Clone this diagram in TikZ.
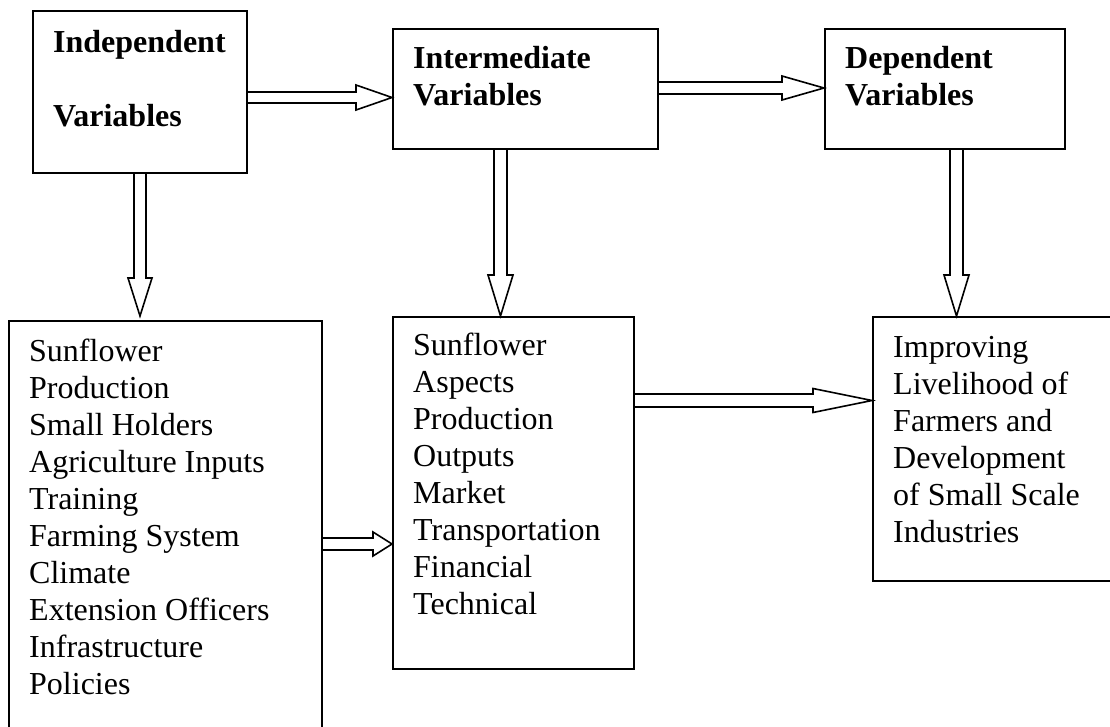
\documentclass[tikz,border=0pt]{standalone}
\usepackage{fontspec}
\setmainfont{Liberation Serif}
\usetikzlibrary{calc}
\tikzset{
  box/.style={draw=black, line width=2pt, rectangle, inner sep=0pt, anchor=north west},
  blk/.style={draw=black, line width=1.6pt, fill=white, line join=miter},
  txt/.style={inner sep=0pt, anchor=base west, align=flush left, text width=300pt,
    font={\fontsize{32}{37}\selectfont}},
  ttl/.style={txt, font={\fontsize{32}{37}\selectfont\bfseries}}
}
\newcommand\blockright[5]{%
  \draw[blk] let \p1=(#1), \p2=(#2) in
   (\x1,\y2+#3) -- (\x2-#4,\y2+#3) -- (\x2-#4,\y2+#5) -- (\x2,\y2)
   -- (\x2-#4,\y2-#5) -- (\x2-#4,\y2-#3) -- (\x1,\y2-#3);}
\newcommand\blockdown[5]{%
  \draw[blk] let \p1=(#1), \p2=(#2) in
   (\x2-#3,\y1) -- (\x2-#3,\y2+#4) -- (\x2-#5,\y2+#4) -- (\x2,\y2)
   -- (\x2+#5,\y2+#4) -- (\x2+#3,\y2+#4) -- (\x2+#3,\y1);}
\begin{document}
\begin{tikzpicture}[x=1pt,y=-1pt]
\useasboundingbox (0,0) rectangle (1110,726);
\clip (0,0) rectangle (1110,726);
\fill[white] (0,0) rectangle (1110,726);
% boxes
\node[box, minimum width=214pt, minimum height=162pt] (b1) at (32,10) {};
\node[box, minimum width=265pt, minimum height=120pt] (b2) at (392,28) {};
\node[box, minimum width=240pt, minimum height=120pt] (b3) at (824,28) {};
\node[box, minimum width=313pt, minimum height=500pt] (b4) at (8,320) {};
\node[box, minimum width=241pt, minimum height=352pt] (b5) at (392,316) {};
\node[box, minimum width=300pt, minimum height=264pt] (b6) at (872,316) {};
% texts
\node[ttl] (t1) at (53,52) {Independent\\[37pt]Variables};
\node[ttl] (t2) at (413,68) {Intermediate\\Variables};
\node[ttl] (t3) at (845,68) {Dependent\\Variables};
\node[txt] (t4) at (29,361) {Sunflower\\Production\\Small Holders\\Agriculture Inputs\\Training\\Farming System\\Climate\\Extension Officers\\Infrastructure\\Policies};
\node[txt] (t5) at (413,355) {Sunflower\\Aspects\\Production\\Outputs\\Market\\Transportation\\Financial\\Technical};
\node[txt] (t6) at (893,357) {Improving\\Livelihood of\\Farmers and\\Development\\of Small Scale\\Industries};
% arrow end points
\coordinate (s1) at (b1.east |- 0,97.5);
\coordinate (e1) at (b2.west |- 0,97.5);
\coordinate (s2) at (b2.east |- 0,88);
\coordinate (e2) at (b3.west |- 0,88);
\coordinate (s3) at (b4.east |- 0,544);
\coordinate (e3) at (b5.west |- 0,544);
\coordinate (s4) at (b5.east |- 0,400.5);
\coordinate (e4) at (b6.west |- 0,400.5);
\coordinate (s5) at (b1.south -| 140,0);
\coordinate (e5) at ($(b4.north -| 140,0)+(0,-4)$);
\coordinate (s6) at (b2.south -| 500.5,0);
\coordinate (e6) at (b5.north -| 500.5,0);
\coordinate (s7) at (b3.south -| 956.5,0);
\coordinate (e7) at (b6.north -| 956.5,0);
% arrows
\blockright{s1}{e1}{5.5pt}{36pt}{12.5pt}
\blockright{s2}{e2}{6pt}{42pt}{12pt}
\blockright{s3}{e3}{6pt}{19pt}{12pt}
\blockright{s4}{e4}{6.5pt}{59pt}{12pt}
\blockdown{s5}{e5}{6pt}{38pt}{12pt}
\blockdown{s6}{e6}{6.5pt}{41pt}{12.5pt}
\blockdown{s7}{e7}{6.5pt}{41pt}{12.5pt}
\end{tikzpicture}
\end{document}
